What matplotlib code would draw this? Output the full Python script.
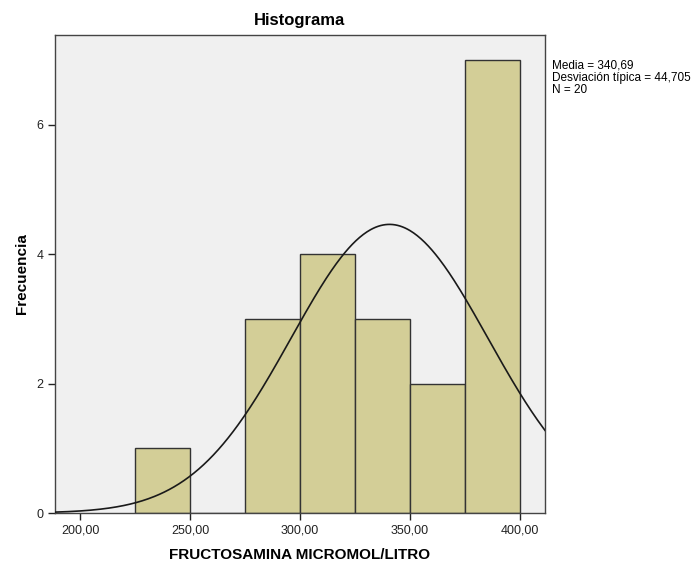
import numpy as np
import matplotlib
matplotlib.use("Agg")
import matplotlib.pyplot as plt

bin_edges = [225, 250, 275, 300, 325, 350, 375, 400]
counts = [1, 0, 3, 4, 3, 2, 7]
mean = 340.69
sd = 44.705
n = 20
xticks = [200, 250, 300, 350, 400]
xtick_labels = ["200,00", "250,00", "300,00", "350,00", "400,00"]
yticks = [0, 2, 4, 6]

plt.rcParams['font.family'] = ['Liberation Sans', 'DejaVu Sans']

fig = plt.figure(figsize=(7, 5.65), dpi=100)
ax = fig.add_axes([55/700, 52/565, 490/700, 478/565])
ax.set_facecolor('#F0F0F0')

lefts = bin_edges[:-1]
widths = np.diff(bin_edges)
ax.bar(lefts, counts, width=widths, align='edge', color='#D3CE97',
       edgecolor='#333333', linewidth=1.0, zorder=2)

xmin, xmax = 188.6, 411.4
xs = np.linspace(xmin, xmax, 400)
bw = bin_edges[1] - bin_edges[0]
ys = n * bw / (sd * np.sqrt(2 * np.pi)) * np.exp(-0.5 * ((xs - mean) / sd) ** 2)
ax.plot(xs, ys, color='#1a1a1a', linewidth=1.2, zorder=3)

ax.set_xlim(xmin, xmax)
ax.set_ylim(0, 7.39)
ax.set_xticks(xticks)
ax.set_xticklabels(xtick_labels)
ax.set_yticks(yticks)
ax.tick_params(axis='both', direction='out', length=5, width=1, labelsize=9,
               colors='#222222', top=False, right=False)
for s in ax.spines.values():
    s.set_color('#444444')
    s.set_linewidth(1.0)

ax.set_title('Histograma', fontsize=12, fontweight='bold', pad=7)
ax.set_xlabel('FRUCTOSAMINA MICROMOL/LITRO', fontsize=11, fontweight='bold', labelpad=8)
ax.set_ylabel('Frecuencia', fontsize=11, fontweight='bold', labelpad=5)

fig.text(552/700, 1 - 78/565,
         'Media = 340,69\nDesviación típica = 44,705\nN = 20',
         fontsize=8.5, va='center', ha='left', linespacing=1.05)

fig.savefig('out.png', dpi=100)
